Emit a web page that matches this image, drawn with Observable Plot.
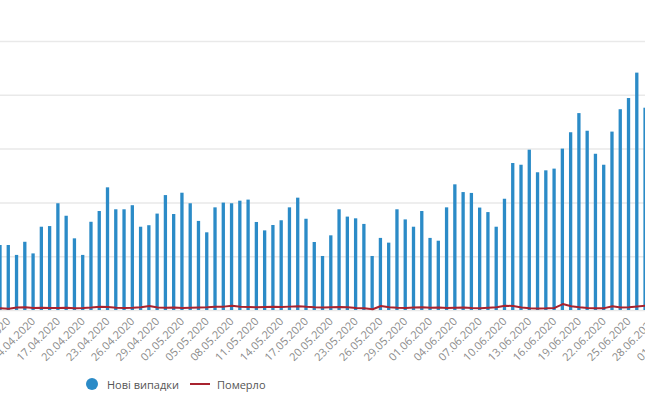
<!DOCTYPE html>
<html>
<head>
<meta charset="utf-8">
<script src="https://cdn.jsdelivr.net/npm/d3@7"></script>
<script src="https://cdn.jsdelivr.net/npm/@observablehq/plot@0.6"></script>
<style>
  html, body { margin: 0; padding: 0; background: #fff; overflow: hidden; }
  #wrap { width: 645px; height: 398px; overflow: hidden; position: relative; font-family: "Open Sans", "Noto Sans", sans-serif; }
  #chart { width: 645px; overflow: hidden; }
  #legend { position: absolute; top: 374px; left: 0; width: 645px; height: 20px; font-size: 11px; color: #555; }
  .item { position: absolute; top: 0; display: flex; align-items: center; height: 20px; }
  .dot { width: 12px; height: 12px; border-radius: 50%; background: #2b8bc7; margin-right: 9px; }
  .ln { width: 20px; height: 2px; background: #a8232f; margin-right: 7px; }
</style>
</head>
<body>
<div id="wrap">
  <div id="chart"></div>
  <div id="legend">
    <div class="item" style="left:86px"><div class="dot"></div><span>Нові випадки</span></div>
    <div class="item" style="left:190px"><div class="ln"></div><span>Померло</span></div>
  </div>
</div>
<script>
// First visible day and the full axis span (dates as shown on the axis)
const startDate = "2020-04-10";
const endDate = "2020-07-01";

// New cases per day, from 10.04.2020
const newCases = [
  302, 302, 256, 317, 263, 387, 390, 496, 438, 333,
  256, 410, 460, 570, 468, 468, 487, 387, 394, 448,
  534, 446, 545, 496, 414, 361, 477, 499, 496, 508,
  513, 409, 370, 395, 417, 477, 522, 424, 316, 251,
  347, 468, 434, 426, 400, 251, 335, 313, 468, 421,
  387, 460, 335, 322, 477, 584, 548, 544, 476, 455,
  387, 517, 683, 675, 745, 640, 649, 657, 750, 826,
  915, 833, 726, 675, 829, 933, 985, 1103, 940
];

// Deaths per day, from 10.04.2020
const deaths = [
  10, 8, 14, 15, 12, 13, 12, 12, 13, 11,
  12, 14, 17, 16, 13, 12, 13, 15, 21, 14,
  13, 14, 12, 13, 14, 15, 17, 18, 22, 17,
  16, 15, 16, 17, 16, 18, 20, 17, 15, 14,
  15, 16, 15, 12, 10, 6, 21, 15, 13, 12,
  14, 15, 13, 14, 12, 13, 14, 12, 11, 13,
  15, 22, 21, 14, 10, 9, 10, 12, 30, 20,
  15, 12, 10, 11, 20, 14, 15, 19, 22
];

// Axis tick labels (every third day)
const tickLabels = [
  "11.04.2020", "14.04.2020", "17.04.2020", "20.04.2020", "23.04.2020", "26.04.2020",
  "29.04.2020", "02.05.2020", "05.05.2020", "08.05.2020", "11.05.2020", "14.05.2020",
  "17.05.2020", "20.05.2020", "23.05.2020", "26.05.2020", "29.05.2020", "01.06.2020",
  "04.06.2020", "07.06.2020", "10.06.2020", "13.06.2020", "16.06.2020", "19.06.2020",
  "22.06.2020", "25.06.2020", "28.06.2020", "01.07.2020"
];

const gridValues = [0, 250, 500, 750, 1000, 1250];

const fmt = d3.utcFormat("%d.%m.%Y");
const days = d3.utcDay.range(new Date(startDate), d3.utcDay.offset(new Date(endDate), 1)).map(fmt);

const casesData = newCases.map((v, i) => ({date: days[i], value: v}));
const deathsData = deaths.map((v, i) => ({date: days[i], value: v}));

const step = 8.27, pad = 0.6, n = days.length;
const x0 = -step * (1 + pad) / 2;
const x1 = x0 + step * (n + pad);

const chart = Plot.plot({
  width: 645,
  height: 372,
  marginLeft: 0,
  marginRight: 0,
  marginTop: 41,
  marginBottom: 62,
  style: {background: "#fff", overflow: "hidden", fontFamily: "'Open Sans', sans-serif", maxWidth: "none"},
  x: {type: "band", domain: days, range: [x0, x1], padding: pad, round: false, axis: null},
  y: {domain: [0, 1250], axis: null},
  marks: [
    Plot.ruleY(gridValues, {stroke: "#e9e9e9", strokeWidth: 1.5}),
    Plot.barY(casesData, {x: "date", y: "value", fill: "#2b8bc7"}),
    Plot.lineY(deathsData, {x: "date", y: "value", stroke: "#a8232f", strokeWidth: 2}),
    Plot.axisX({ticks: tickLabels, tickSize: 0, tickPadding: 9, tickRotate: -45, fontSize: 11, fill: "#8a8a8a", label: null})
  ]
});
document.getElementById("chart").appendChild(chart);
</script>
</body>
</html>
